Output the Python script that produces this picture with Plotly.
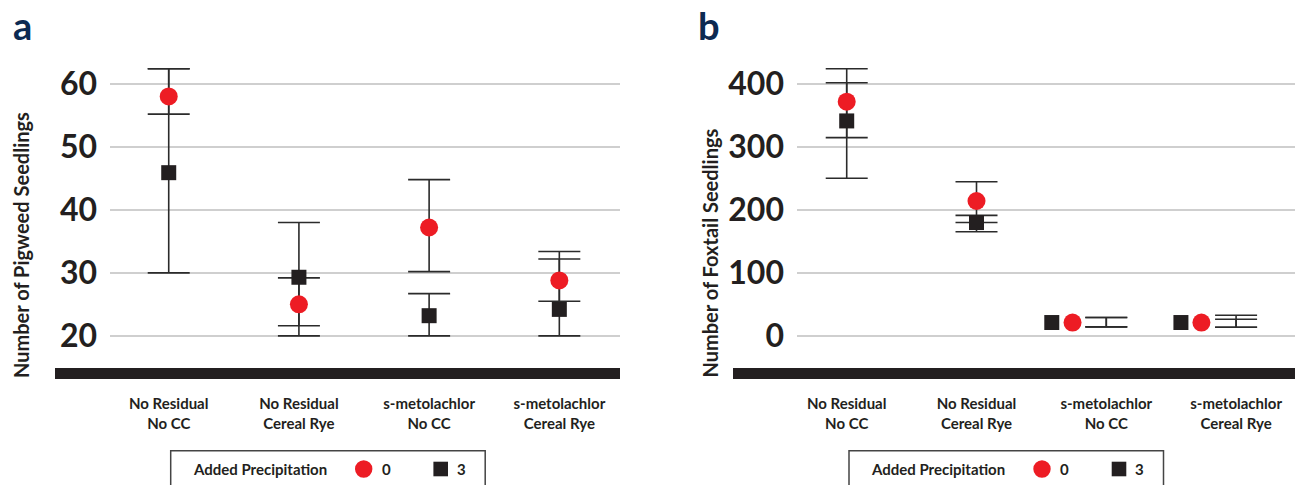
import plotly.graph_objects as go

# ---------------- data ----------------
categories = ["No Residual<br>No CC", "No Residual<br>Cereal Rye",
              "s-metolachlor<br>No CC", "s-metolachlor<br>Cereal Rye"]

pig_ticks = [20, 30, 40, 50, 60]
fox_ticks = [0, 100, 200, 300, 400]

# Pigweed (panel a)
pig_prec0 = [58.0, 25.0, 37.2, 28.8]
pig_prec0_lo = [55.2, 21.6, 30.2, 25.5]
pig_prec0_hi = [62.4, 29.2, 44.8, 32.2]
pig_prec3 = [45.9, 29.3, 23.2, 24.2]
pig_prec3_lo = [30.0, 20.0, 20.0, 20.0]
pig_prec3_hi = [62.4, 38.0, 26.7, 33.4]

# Foxtail (panel b)
fox_prec0 = [371.5, 213.8, 20.9, 20.9]
fox_prec0_lo = [314.4, 179.6, 14.0, 13.5]
fox_prec0_hi = [423.8, 244.4, 28.9, 26.2]
fox_prec3 = [340.9, 179.6, 20.9, 20.9]
fox_prec3_lo = [250.0, 164.9, 14.0, 13.5]
fox_prec3_hi = [401.6, 191.0, 28.9, 32.5]

legend_title = "Added Precipitation"
legend_labels = ["0", "3"]

# ---------------- style / layout constants ----------------
W, H = 1295, 485
RED = "#ed1c24"
BLACK = "#231f20"
NAVY = "#0c2a52"
ERR = "#2b2b2b"
GRID = "#cfcfcf"
FONT = "Lato"

# horizontal nudges of markers (category units) in panel b
fox_shift0 = [0, 0, -0.26, -0.267]
fox_shift3 = [0, 0, -0.42, -0.425]
pig_shift0 = [0, 0, 0, 0]
pig_shift3 = [0, 0, 0, 0]


def px_x(p):
    return p / W


def px_y(p):
    return (H - p) / H


fig = go.Figure()

panels = [
    dict(xa="x", ya="y",
         s0=(pig_prec0, pig_prec0_lo, pig_prec0_hi, pig_shift0),
         s3=(pig_prec3, pig_prec3_lo, pig_prec3_hi, pig_shift3)),
    dict(xa="x2", ya="y2",
         s0=(fox_prec0, fox_prec0_lo, fox_prec0_hi, fox_shift0),
         s3=(fox_prec3, fox_prec3_lo, fox_prec3_hi, fox_shift3)),
]

cat_x = list(range(len(categories)))

for p in panels:
    # error bars (at category centre)
    for key in ("s3", "s0"):
        mean, lo, hi, _ = p[key]
        fig.add_trace(go.Scatter(
            x=cat_x, y=mean, mode="markers",
            marker=dict(size=2, color="rgba(0,0,0,0)"),
            error_y=dict(type="data", symmetric=False,
                         array=[h - m for h, m in zip(hi, mean)],
                         arrayminus=[m - l for m, l in zip(mean, lo)],
                         color=ERR, thickness=1.6, width=21),
            xaxis=p["xa"], yaxis=p["ya"], showlegend=False, hoverinfo="skip"))
    # markers
    mean, lo, hi, sh = p["s3"]
    fig.add_trace(go.Scatter(
        x=[c + s for c, s in zip(cat_x, sh)], y=mean, mode="markers",
        marker=dict(symbol="square", size=15, color=BLACK, line=dict(width=0)),
        xaxis=p["xa"], yaxis=p["ya"], showlegend=False, name=legend_labels[1]))
    mean, lo, hi, sh = p["s0"]
    fig.add_trace(go.Scatter(
        x=[c + s for c, s in zip(cat_x, sh)], y=mean, mode="markers",
        marker=dict(symbol="circle", size=18, color=RED, line=dict(width=0)),
        xaxis=p["xa"], yaxis=p["ya"], showlegend=False, name=legend_labels[0]))

ydom = [px_y(379), px_y(50)]
tickfont_y = dict(family=FONT, size=32, color=BLACK, weight="bold")
tickfont_x = dict(family=FONT, size=15, color=BLACK, weight="bold")

common_x = dict(tickmode="array", tickvals=cat_x, ticktext=categories,
                showgrid=False, zeroline=False, showline=False, ticks="",
                tickfont=tickfont_x, ticklabelstandoff=14, fixedrange=True)
common_y = dict(showgrid=True, gridcolor=GRID, gridwidth=1.6, zeroline=False,
                showline=False, ticks="", tickfont=tickfont_y,
                ticklabelstandoff=12, tickmode="array", fixedrange=True)

fig.update_layout(
    width=W, height=H,
    margin=dict(l=0, r=0, t=0, b=0),
    paper_bgcolor="white", plot_bgcolor="white",
    xaxis=dict(domain=[px_x(110), px_x(620)], range=[-0.451, 3.466],
               anchor="y", **common_x),
    yaxis=dict(domain=ydom, range=[13.151, 65.373], tickvals=pig_ticks,
               anchor="x", **common_y),
    xaxis2=dict(domain=[px_x(797), 1.0], range=[-0.383, 3.454],
                anchor="y2", **common_x),
    yaxis2=dict(domain=ydom, range=[-68.73, 453.49], tickvals=fox_ticks,
                anchor="x2", **common_y),
)

shapes = []
annotations = []

# thick black baseline bars
for x0, x1 in ((55, 620), (733, 1295)):
    shapes.append(dict(type="rect", xref="paper", yref="paper",
                       x0=px_x(x0), x1=px_x(x1), y0=px_y(379), y1=px_y(368),
                       fillcolor=BLACK, line=dict(width=0), layer="above"))

# panel letters
for txt, xp in (("a", 11), ("b", 696)):
    annotations.append(dict(text=txt, xref="paper", yref="paper",
                            x=px_x(xp), y=1.0, xanchor="left", yanchor="top",
                            showarrow=False,
                            font=dict(family=FONT, size=38, color=NAVY, weight="bold")))

# y-axis titles
for txt, xp in (("Number of Pigweed Seedlings", 21), ("Number of Foxtail Seedlings", 709)):
    annotations.append(dict(text=txt, xref="paper", yref="paper",
                            x=px_x(xp), y=px_y(380), xanchor="center", yanchor="bottom",
                            textangle=-90, showarrow=False,
                            font=dict(family=FONT, size=20, color=BLACK, weight="bold")))

# manual legends
legfont = dict(family=FONT, size=15, color=BLACK, weight="bold")
for bx in (170.7, 849):
    shapes.append(dict(type="rect", xref="paper", yref="paper",
                       x0=px_x(bx), x1=px_x(bx + 314.5), y0=px_y(510), y1=px_y(450.7),
                       fillcolor="white", line=dict(color="#444444", width=1.5)))
    cy = 469
    annotations.append(dict(text=legend_title, xref="paper", yref="paper",
                            x=px_x(bx + 20), y=px_y(cy), xanchor="left", yanchor="middle",
                            showarrow=False, font=legfont))
    cx = bx + 193
    shapes.append(dict(type="circle", xref="paper", yref="paper",
                       x0=px_x(cx - 8.7), x1=px_x(cx + 8.7), y0=px_y(cy + 8.7), y1=px_y(cy - 8.7),
                       fillcolor=RED, line=dict(width=0)))
    annotations.append(dict(text=legend_labels[0], xref="paper", yref="paper",
                            x=px_x(bx + 209), y=px_y(cy), xanchor="left", yanchor="middle",
                            showarrow=False, font=legfont))
    sx = bx + 270
    shapes.append(dict(type="rect", xref="paper", yref="paper",
                       x0=px_x(sx - 7.3), x1=px_x(sx + 7.3), y0=px_y(cy + 7.3), y1=px_y(cy - 7.3),
                       fillcolor=BLACK, line=dict(width=0)))
    annotations.append(dict(text=legend_labels[1], xref="paper", yref="paper",
                            x=px_x(bx + 284), y=px_y(cy), xanchor="left", yanchor="middle",
                            showarrow=False, font=legfont))

fig.update_layout(shapes=shapes, annotations=annotations)

fig.write_html("out.html",
               config={"displayModeBar": False},
               post_script="document.body.style.margin='0';document.body.style.padding='0';")
